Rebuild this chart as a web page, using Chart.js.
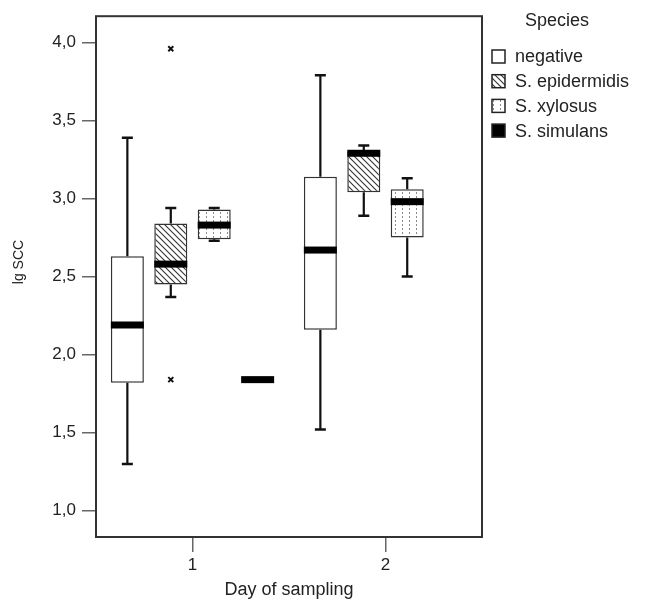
<!DOCTYPE html>
<html>
<head>
<meta charset="utf-8">
<script src="https://cdn.jsdelivr.net/npm/chart.js@4.4.1/dist/chart.umd.min.js"></script>
<style>
  html, body { margin: 0; padding: 0; background: #fff; }
  #wrap { width: 649px; height: 601px; position: relative; }
</style>
</head>
<body>
<div id="wrap"><canvas id="boxChart"></canvas></div>
<script>
// ===== DATA =====
const days = ['1', '2'];
const species = ['negative', 'S. epidermidis', 'S. xylosus', 'S. simulans'];
// one row per species, [day 1, day 2]
const minVals    = [[1.30, 1.52], [2.37, 2.89], [2.73, 2.50], [1.84, null]];
const q1Vals     = [[1.82, 2.16], [2.45, 3.04], [2.74, 2.75], [1.84, null]];
const medianVals = [[2.19, 2.67], [2.58, 3.29], [2.83, 2.98], [1.84, null]];
const q3Vals     = [[2.63, 3.14], [2.84, 3.30], [2.93, 3.06], [1.84, null]];
const maxVals    = [[3.39, 3.79], [2.94, 3.34], [2.94, 3.13], [1.84, null]];
const outlierVals = [[[], []], [[3.96, 1.84], []], [[], []], [[], []]];
const yTicks = [1.0, 1.5, 2.0, 2.5, 3.0, 3.5, 4.0];

const FONT = "'Liberation Sans', Arial, Helvetica, sans-serif";
const canvas = document.getElementById('boxChart');
const mainCtx = canvas.getContext('2d');

// ===== FILL PATTERNS =====
function hatchPattern() {
  const c = document.createElement('canvas');
  c.width = 6; c.height = 6;
  const g = c.getContext('2d');
  g.fillStyle = '#fff';
  g.fillRect(0, 0, 6, 6);
  g.strokeStyle = '#333';
  g.lineWidth = 1.1;
  g.beginPath();
  g.moveTo(-1, -1); g.lineTo(7, 7);
  g.moveTo(-1, 5); g.lineTo(1, 7);
  g.moveTo(5, -1); g.lineTo(7, 1);
  g.stroke();
  return mainCtx.createPattern(c, 'repeat');
}

function dotPattern() {
  const c = document.createElement('canvas');
  c.width = 7; c.height = 4;
  const g = c.getContext('2d');
  g.fillStyle = '#fff';
  g.fillRect(0, 0, 7, 4);
  g.fillStyle = '#8a8a8a';
  g.fillRect(3, 0, 1, 2);
  return mainCtx.createPattern(c, 'repeat');
}

const fills = ['#ffffff', hatchPattern(), dotPattern(), '#000000'];

// ===== WHISKERS, MEDIANS, OUTLIERS =====
const boxPlotPlugin = {
  id: 'boxWhiskers',
  afterDatasetsDraw(chart) {
    const ctx = chart.ctx;
    const yScale = chart.scales.y;
    ctx.save();
    chart.data.datasets.forEach((ds, di) => {
      const meta = chart.getDatasetMeta(di);
      meta.data.forEach((bar, i) => {
        const med = medianVals[di][i];
        if (med == null) return;
        const { x, width } = bar.getProps(['x', 'width'], true);
        const pMin = yScale.getPixelForValue(minVals[di][i]);
        const pQ1 = yScale.getPixelForValue(q1Vals[di][i]);
        const pQ3 = yScale.getPixelForValue(q3Vals[di][i]);
        const pMax = yScale.getPixelForValue(maxVals[di][i]);
        const pMed = yScale.getPixelForValue(med);

        ctx.strokeStyle = '#111';
        ctx.lineWidth = 2.2;
        if (Math.abs(pMax - pQ3) > 0.5 || di !== 3) {
          ctx.beginPath();
          ctx.moveTo(x, pQ3); ctx.lineTo(x, pMax);
          ctx.moveTo(x, pQ1); ctx.lineTo(x, pMin);
          ctx.stroke();
          ctx.lineWidth = 2.5;
          ctx.beginPath();
          ctx.moveTo(x - 5.5, pMax); ctx.lineTo(x + 5.5, pMax);
          ctx.moveTo(x - 5.5, pMin); ctx.lineTo(x + 5.5, pMin);
          ctx.stroke();
        }

        ctx.fillStyle = '#000';
        ctx.fillRect(x - width / 2, pMed - 3.5, width, 7);

        ctx.lineWidth = 2;
        (outlierVals[di][i] || []).forEach(v => {
          const py = yScale.getPixelForValue(v);
          ctx.beginPath();
          ctx.moveTo(x - 2.5, py - 2.5); ctx.lineTo(x + 2.5, py + 2.5);
          ctx.moveTo(x + 2.5, py - 2.5); ctx.lineTo(x - 2.5, py + 2.5);
          ctx.stroke();
        });
      });
    });
    ctx.restore();
  }
};

// ===== FRAME, Y TITLE, LEGEND =====
const framePlugin = {
  id: 'frameAndLegend',
  afterDraw(chart) {
    const ctx = chart.ctx;
    const a = chart.chartArea;
    ctx.save();
    ctx.strokeStyle = '#333';
    ctx.lineWidth = 2;
    ctx.strokeRect(a.left, a.top, a.right - a.left, a.bottom - a.top);

    // y axis title
    ctx.fillStyle = '#222';
    ctx.font = '14px ' + FONT;
    ctx.textAlign = 'center';
    ctx.textBaseline = 'middle';
    ctx.translate(19, 262);
    ctx.rotate(-Math.PI / 2);
    ctx.fillText('lg SCC', 0, 0);
    ctx.setTransform(1, 0, 0, 1, 0, 0);

    // legend
    ctx.font = '18px ' + FONT;
    ctx.fillText('Species', 557, 21);
    ctx.textAlign = 'left';
    chart.data.datasets.forEach((ds, i) => {
      const yc = 56.5 + i * 24.7;
      ctx.fillStyle = ds.backgroundColor;
      ctx.fillRect(492, yc - 6.5, 13, 13);
      ctx.strokeStyle = '#222';
      ctx.lineWidth = 1.5;
      ctx.strokeRect(492, yc - 6.5, 13, 13);
      ctx.fillStyle = '#222';
      ctx.fillText(ds.label, 515, yc + 1);
    });
    ctx.restore();
  }
};

new Chart(canvas, {
  type: 'bar',
  data: {
    labels: days,
    datasets: species.map((name, di) => ({
      label: name,
      data: days.map((d, i) => q1Vals[di][i] == null ? null : [q1Vals[di][i], q3Vals[di][i]]),
      backgroundColor: fills[di],
      borderColor: '#333',
      borderWidth: 1.5,
      borderSkipped: false,
      categoryPercentage: 0.9,
      barPercentage: 0.76
    }))
  },
  options: {
    responsive: true,
    maintainAspectRatio: false,
    animation: false,
    layout: { padding: { top: 12, right: 167, left: 0, bottom: 0 } },
    plugins: {
      legend: { display: false },
      tooltip: { enabled: false }
    },
    scales: {
      x: {
        afterFit: s => { s.height = 64; },
        grid: { offset: false, drawOnChartArea: false, drawTicks: true, tickLength: 15, color: '#666', lineWidth: 1.5 },
        border: { display: false },
        ticks: { color: '#222', font: { family: FONT, size: 17 }, padding: 3 },
        title: { display: true, text: 'Day of sampling', color: '#222', font: { family: FONT, size: 18 }, padding: { top: 0, bottom: 0 } }
      },
      y: {
        min: 0.832,
        max: 4.168,
        afterFit: s => { s.width = 96; },
        afterBuildTicks: s => { s.ticks = yTicks.map(v => ({ value: v })); },
        grid: { drawOnChartArea: false, drawTicks: true, tickLength: 14, color: '#666', lineWidth: 1.5 },
        border: { display: false },
        ticks: { color: '#222', font: { family: FONT, size: 17 }, padding: 6, callback: v => v.toFixed(1).replace('.', ',') }
      }
    }
  },
  plugins: [boxPlotPlugin, framePlugin]
});
</script>
</body>
</html>
